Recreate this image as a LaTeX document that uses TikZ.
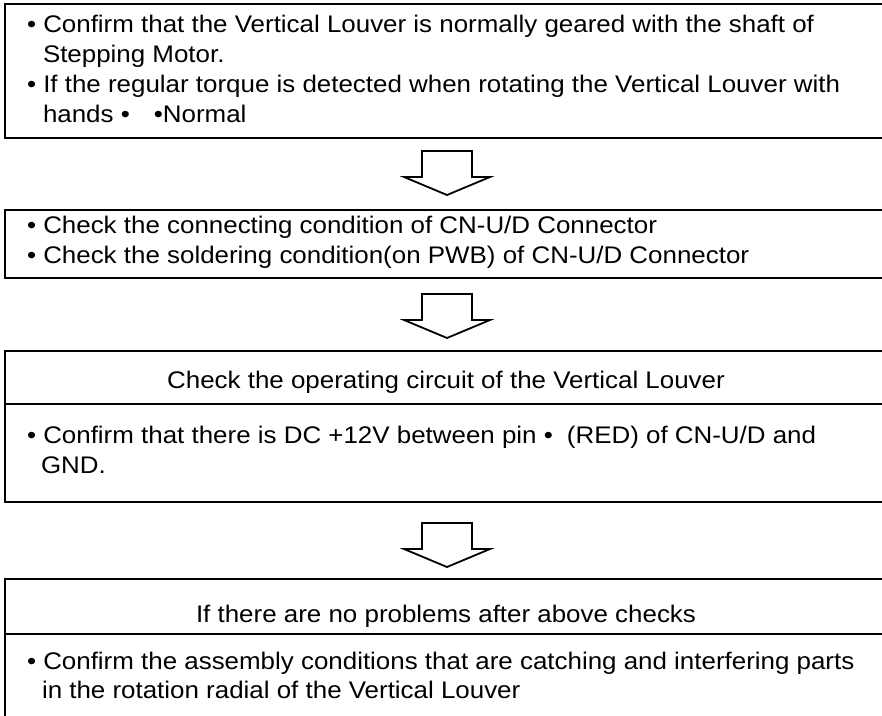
\documentclass[tikz,border=0pt]{standalone}
\usepackage{fontspec}
\setmainfont{Liberation Sans}[FakeStretch=1.08]
\begin{document}
\begin{tikzpicture}[x=1pt,y=-1pt,
  frame/.style={draw=black, line width=1.8pt, inner sep=0pt, outer sep=0pt, rectangle},
  rule/.style={draw=black, line width=1.8pt},
  blockarrow/.style={draw=black, line width=1.8pt, line join=miter, fill=white},
  txt/.style={inner sep=0pt, outer sep=0pt, font=\fontsize{24}{30}\selectfont}]
\clip (0,0) rectangle (882,715);
\useasboundingbox (0,0) rectangle (882,715);

% Box 1
\node[frame, anchor=north west, minimum width=885pt, minimum height=134pt] (b1) at (5,4) {};
\node[txt, anchor=base west] (t11) at (27,32) {• Confirm that the Vertical Louver is normally geared with the shaft of};
\node[txt, anchor=base west] (t12) at (43,62) {Stepping Motor.};
\node[txt, anchor=base west] (t13) at (27,92) {• If the regular torque is detected when rotating the Vertical Louver with};
\node[txt, anchor=base west] (t14) at (43,122) {hands •\hspace{24pt}•Normal};

% Box 2
\node[frame, anchor=north west, minimum width=885pt, minimum height=68pt] (b2) at (5,210) {};
\node[txt, anchor=base west] (t21) at (27,233) {• Check the connecting condition of CN-U/D Connector};
\node[txt, anchor=base west] (t22) at (27,263) {• Check the soldering condition(on PWB) of CN-U/D Connector};

% Box 3
\node[frame, anchor=north west, minimum width=885pt, minimum height=151pt] (b3) at (5,351) {};
\coordinate (d3) at (0,404);
\draw[rule] (b3.west |- d3) -- (b3.east |- d3);
\node[txt, anchor=base] (h3) at (446,388) {Check the operating circuit of the Vertical Louver};
\node[txt, anchor=base west] (t31) at (27,443) {• Confirm that there is DC +12V between pin •\hspace{14pt}(RED) of CN-U/D and};
\node[txt, anchor=base west] (t32) at (41,473) {GND.};

% Box 4
\node[frame, anchor=north west, minimum width=885pt, minimum height=170pt] (b4) at (5,579) {};
\coordinate (d4) at (0,634);
\draw[rule] (b4.west |- d4) -- (b4.east |- d4);
\node[txt, anchor=base] (h4) at (446,622) {If there are no problems after above checks};
\node[txt, anchor=base west] (t41) at (27,669) {• Confirm the assembly conditions that are catching and interfering parts};
\node[txt, anchor=base west] (t42) at (42,698) {in the rotation radial of the Vertical Louver};

% Block arrows
\coordinate (a1) at (447,151);
\coordinate (a2) at (447,294);
\coordinate (a3) at (447,523);
\foreach \a in {a1,a2,a3}{
  \draw[blockarrow] (\a) ++(-25,0) -- ++(50,0) -- ++(0,26) -- ++(18,0) -- ++(-43,18) -- ++(-43,-18) -- ++(18,0) -- cycle;
}
\end{tikzpicture}
\end{document}
